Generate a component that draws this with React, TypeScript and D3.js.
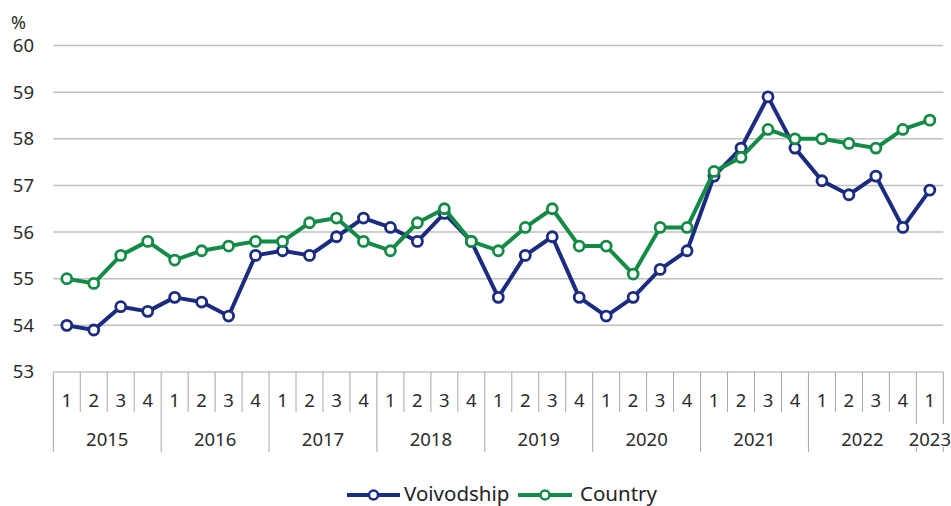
import React from 'react';
import * as d3 from 'd3';

// years and quarters on the category axis
const years = ['2015', '2016', '2017', '2018', '2019', '2020', '2021', '2022', '2023'];
const quartersPerYear = [4, 4, 4, 4, 4, 4, 4, 4, 1];

// employment rate, %
const voivodship = [
  54.0, 53.9, 54.4, 54.3,
  54.6, 54.5, 54.2, 55.5,
  55.6, 55.5, 55.9, 56.3,
  56.1, 55.8, 56.4, 55.8,
  54.6, 55.5, 55.9, 54.6,
  54.2, 54.6, 55.2, 55.6,
  57.2, 57.8, 58.9, 57.8,
  57.1, 56.8, 57.2, 56.1,
  56.9,
];
const country = [
  55.0, 54.9, 55.5, 55.8,
  55.4, 55.6, 55.7, 55.8,
  55.8, 56.2, 56.3, 55.8,
  55.6, 56.2, 56.5, 55.8,
  55.6, 56.1, 56.5, 55.7,
  55.7, 55.1, 56.1, 56.1,
  57.3, 57.6, 58.2, 58.0,
  58.0, 57.9, 57.8, 58.2,
  58.4,
];
const yTicks = [53, 54, 55, 56, 57, 58, 59, 60];

const W = 951;
const H = 506;
const FONT = '"Noto Sans", "Open Sans", sans-serif';
const NAVY = '#1b2b80';
const GREEN = '#138a45';
const TEXT = '#2b2b2b';

export default function App() {
  // flatten categories
  const cats: { year: string; q: string; first: boolean }[] = [];
  years.forEach((y, yi) => {
    for (let q = 1; q <= quartersPerYear[yi]; q++) cats.push({ year: y, q: String(q), first: q === 1 });
  });

  const x = d3.scaleBand<number>()
    .domain(cats.map((_, i) => i))
    .range([53.3, 943.3]);
  const y = d3.scaleLinear().domain([53, 60]).range([372, 45.5]);
  const bw = x.bandwidth();
  const cx = (i: number) => (x(i) as number) + bw / 2;

  const line = d3.line<number>()
    .x((_, i) => cx(i))
    .y((d) => y(d));

  const axisTop = y(53);
  const series = [
    { name: 'Voivodship', values: voivodship, color: NAVY },
    { name: 'Country', values: country, color: GREEN },
  ];

  // year spans
  let start = 0;
  const yearSpans = years.map((yr, yi) => {
    const s = start;
    start += quartersPerYear[yi];
    return { yr, s, e: start };
  });

  return (
    <svg width={W} height={H} style={{ position: 'absolute', left: 0, top: 0, fontFamily: FONT }}>
      <rect width={W} height={H} fill="#fff" />

      {/* y gridlines */}
      {yTicks.filter((t) => t > 53).map((t) => (
        <line key={t} x1={53.3} x2={943.3} y1={y(t)} y2={y(t)} stroke="#c0c0c0" strokeWidth={1.5} />
      ))}
      {yTicks.map((t) => (
        <text key={t} x={34} y={y(t)} dy="0.35em" textAnchor="end" fontSize={18.5} fill={TEXT}>{t}</text>
      ))}
      <text x={11} y={23} dy="0.35em" fontSize={18} fill={TEXT}>%</text>

      {/* category axis */}
      <line x1={53.3} x2={943.3} y1={axisTop} y2={axisTop} stroke="#a6a6a6" strokeWidth={1} />
      {cats.map((c, i) => (
        <g key={i}>
          {!c.first && (
            <line x1={x(i)} x2={x(i)} y1={axisTop} y2={412} stroke="#a6a6a6" strokeWidth={1} />
          )}
          <text x={cx(i)} y={407} textAnchor="middle" fontSize={18.5} fill={TEXT}>{c.q}</text>
        </g>
      ))}
      {yearSpans.map((sp, k) => {
        const xs = x(sp.s) as number;
        const short = k === yearSpans.length - 1;
        return (
          <g key={sp.yr}>
            {short ? (
              <>
                <line x1={xs} x2={xs} y1={axisTop} y2={424} stroke="#a6a6a6" />
                <line x1={xs} x2={xs} y1={447} y2={452} stroke="#a6a6a6" />
              </>
            ) : (
              <line x1={xs} x2={xs} y1={axisTop} y2={452} stroke="#a6a6a6" />
            )}
            <text x={(xs + (x(sp.e - 1) as number) + bw) / 2} y={446} textAnchor="middle" fontSize={18.5} fill={TEXT}>{sp.yr}</text>
          </g>
        );
      })}
      <line x1={943.3} x2={943.3} y1={axisTop} y2={424} stroke="#a6a6a6" />
      <line x1={943.3} x2={943.3} y1={447} y2={452} stroke="#a6a6a6" />

      {/* series */}
      {series.map((s) => (
        <g key={s.name}>
          <path d={line(s.values) || ''} fill="none" stroke={s.color} strokeWidth={4} strokeLinejoin="round" />
          {s.values.map((v, i) => (
            <circle key={i} cx={cx(i)} cy={y(v)} r={5} fill="#fff" stroke={s.color} strokeWidth={2.8} />
          ))}
        </g>
      ))}

      {/* legend */}
      <g>
        <line x1={347} x2={400} y1={495} y2={495} stroke={NAVY} strokeWidth={4} />
        <circle cx={373.5} cy={495} r={4.5} fill="#fff" stroke={NAVY} strokeWidth={2.5} />
        <text x={404} y={501} fontSize={20.5} fill="#222">Voivodship</text>
        <line x1={518} x2={572} y1={495} y2={495} stroke={GREEN} strokeWidth={4} />
        <circle cx={545} cy={495} r={4.5} fill="#fff" stroke={GREEN} strokeWidth={2.5} />
        <text x={580} y={501} fontSize={20.5} fill="#222">Country</text>
      </g>
    </svg>
  );
}
